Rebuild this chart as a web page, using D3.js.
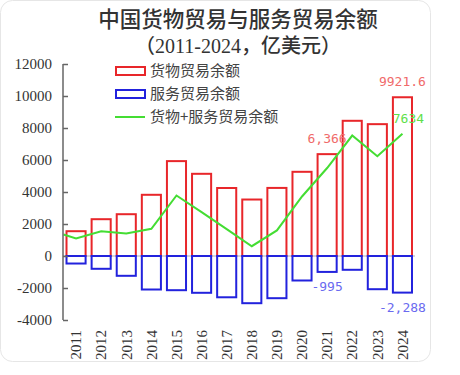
<!DOCTYPE html>
<html><head><meta charset="utf-8">
<script src="https://cdn.jsdelivr.net/npm/d3@7"></script>
<style>
html,body{margin:0;padding:0;background:#fff;}
svg{display:block;}
</style></head>
<body>
<script>
const years = ["2011","2012","2013","2014","2015","2016","2017","2018","2019","2020","2021","2022","2023","2024"];
const goods = [1550, 2300, 2612, 3825, 5930, 5137, 4250, 3530, 4255, 5262, 6366, 8450, 8240, 9921.6];
const services = [-470, -800, -1238, -2094, -2137, -2300, -2580, -2950, -2637, -1531, -995, -862, -2075, -2288];
const total = [1094, 1550, 1400, 1700, 3781, 2740, 1675, 612, 1600, 3720, 5500, 7530, 6240, 7634];
const totalStart = 1340; // value where the line meets the y axis
const yTicks = [-4000, -2000, 0, 2000, 4000, 6000, 8000, 10000, 12000];
const legendItems = ["货物贸易余额", "服务贸易余额", "货物+服务贸易余额"];
const titleLines = ["中国货物贸易与服务贸易余额", "（2011-2024，亿美元）"];
const labels = [
  {year:"2024", value:9921.6, text:"9921.6", kind:"goods"},
  {year:"2021", value:6366, text:"6,366", kind:"goods"},
  {year:"2024", value:7634, text:"7634", kind:"total"},
  {year:"2021", value:-995, text:"-995", kind:"services"},
  {year:"2024", value:-2288, text:"-2,288", kind:"services"}
];

const W = 460, H = 375;
const svg = d3.select("body").append("svg").attr("width", W).attr("height", H);

// card
svg.append("rect").attr("x",0.5).attr("y",0.5).attr("width",430).attr("height",361)
  .attr("rx",12).attr("fill","#fff").attr("stroke","#e6e6e6");

const x = d3.scaleBand().domain(years).range([63.5, 415]).paddingInner(0.16).paddingOuter(0.08);
const y = d3.scaleLinear().domain([-4000, 12000]).range([320, 64]);

// titles
const serif = "'Liberation Serif','Noto Sans CJK SC',serif";
svg.append("text").attr("x",238).attr("y",27).attr("text-anchor","middle")
  .attr("font-family", serif).attr("font-size",21.5).attr("fill","#333").attr("font-weight",500)
  .text(titleLines[0]);
svg.append("text").attr("x",238).attr("y",53).attr("text-anchor","middle")
  .attr("font-family", serif).attr("font-size",20).attr("fill","#333").attr("font-weight",500)
  .text(titleLines[1]);

// zero line
svg.append("line").attr("x1",63).attr("x2",415).attr("y1",y(0)).attr("y2",y(0))
  .attr("stroke","#d6d6d6").attr("stroke-width",2);

// goods bars
svg.append("g").selectAll("rect").data(years).join("rect")
  .attr("x", d => x(d)+1).attr("width", x.bandwidth()-2)
  .attr("y", (d,i) => y(goods[i])).attr("height", (d,i) => y(0)-y(goods[i]))
  .attr("fill","none").attr("stroke","#e8262a").attr("stroke-width",2);

// services bars
svg.append("g").selectAll("rect").data(years).join("rect")
  .attr("x", d => x(d)+1).attr("width", x.bandwidth()-2)
  .attr("y", y(0)).attr("height", (d,i) => y(services[i])-y(0))
  .attr("fill","none").attr("stroke","#2222dd").attr("stroke-width",2);

// total line
const pts = [[63.5, y(totalStart)]].concat(years.map((d,i)=>[x(d)+x.bandwidth()/2, y(total[i])]));
svg.append("path").attr("d", d3.line()(pts)).attr("fill","none")
  .attr("stroke","#44dd33").attr("stroke-width",2);

// y axis
const yAxis = d3.axisRight(y).tickValues(yTicks).tickSize(5).tickFormat("");
const ga = svg.append("g").attr("transform","translate(63,0)").call(yAxis);
ga.select(".domain").attr("stroke","#666").attr("stroke-width",1.5).attr("d","M0,64V320");
ga.selectAll(".tick line").attr("stroke","#666").attr("stroke-width",1.5);
svg.append("g").selectAll("text").data(yTicks).join("text")
  .attr("x",52).attr("y", d=>y(d)).attr("dy","0.35em").attr("text-anchor","end")
  .attr("font-family","'Liberation Serif',serif").attr("font-size",15).attr("fill","#333")
  .text(d=>d);

// x labels
svg.append("g").selectAll("text").data(years).join("text")
  .attr("transform", d=>`translate(${x(d)+x.bandwidth()/2},330) rotate(-90)`)
  .attr("dy","0.35em").attr("text-anchor","end")
  .attr("font-family","'Liberation Serif',serif").attr("font-size",15).attr("fill","#333")
  .text(d=>d);

// legend
const lg = svg.append("g");
const legY = [71, 94, 117];
const legColors = ["#e8262a", "#2222dd", "#44dd33"];
legendItems.forEach((t,i)=>{
  if (i<2) {
    lg.append("rect").attr("x",116).attr("y",legY[i]-4).attr("width",29).attr("height",8)
      .attr("fill","none").attr("stroke",legColors[i]).attr("stroke-width",2);
  } else {
    lg.append("line").attr("x1",115).attr("x2",145).attr("y1",legY[i]).attr("y2",legY[i])
      .attr("stroke",legColors[i]).attr("stroke-width",2);
  }
  lg.append("text").attr("x",150).attr("y",legY[i]).attr("dy","0.36em")
    .attr("font-family","'Noto Sans CJK SC',sans-serif").attr("font-size",15).attr("fill","#444")
    .text(t);
});

// data labels
const labColor = {goods:"#f06a6a", total:"#5ee04a", services:"#6a6af0"};
svg.append("g").selectAll("text").data(labels).join("text")
  .attr("x", d => x(d.year)+x.bandwidth()/2 + (d.kind==="total"?6:0))
  .attr("y", d => y(d.value) + (d.kind==="services"? 15 : -11))
  .attr("dy", d => d.kind==="services" ? "0.35em" : "0")
  .attr("text-anchor","middle")
  .attr("font-family","'DejaVu Sans Mono',monospace").attr("font-size",13)
  .attr("fill", d=>labColor[d.kind])
  .text(d=>d.text);
</script>
</body></html>
